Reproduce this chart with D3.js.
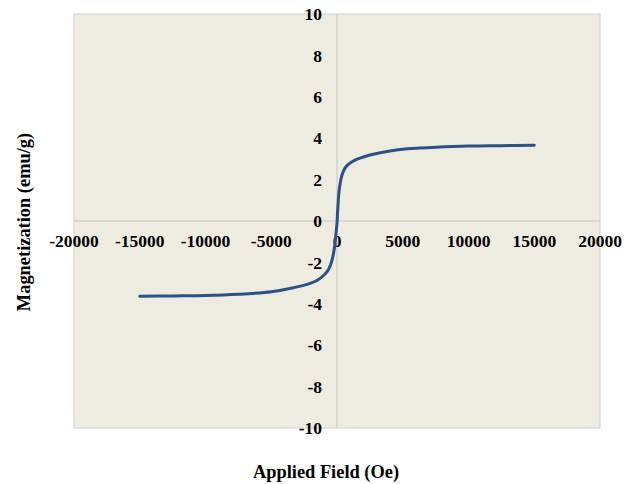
<!DOCTYPE html>
<html>
<head>
<meta charset="utf-8">
<script src="https://cdn.jsdelivr.net/npm/d3@7"></script>
<style>
  body { margin: 0; background: #fff; }
  text { font-family: "Liberation Serif", "Times New Roman", serif; font-weight: bold; fill: #000; }
</style>
</head>
<body>
<div id="chart"></div>
<script>
// applied field (Oe) and magnetization (emu/g)
const field = [-15000, -12500, -10000, -7500, -5000, -3500, -2000, -1500, -1000, -700, -500, -350, -200, -100, 0,
  50, 100, 150, 250, 350, 500, 700, 1000, 1300, 1750, 2500, 3300, 5000, 7500, 10000, 12500, 15000];
const magnetization = [-3.64, -3.62, -3.60, -3.54, -3.42, -3.25, -3.00, -2.86, -2.62, -2.40, -2.14, -1.82, -1.32, -0.75, -0.1,
  0.5, 1.0, 1.4, 1.85, 2.15, 2.42, 2.63, 2.80, 2.92, 3.04, 3.19, 3.30, 3.47, 3.56, 3.62, 3.64, 3.66];
const xTicks = [-20000, -15000, -10000, -5000, 0, 5000, 10000, 15000, 20000];
const yTicks = [-10, -8, -6, -4, -2, 0, 2, 4, 6, 8, 10];

const width = 624, height = 484;
const plot = { left: 74, right: 600, top: 14, bottom: 428 };

const svg = d3.select("#chart").append("svg")
    .attr("width", width)
    .attr("height", height);

const x = d3.scaleLinear().domain([-20000, 20000]).range([plot.left, plot.right]);
const y = d3.scaleLinear().domain([-10, 10]).range([plot.bottom, plot.top]);

svg.append("rect")
    .attr("x", plot.left)
    .attr("y", plot.top)
    .attr("width", plot.right - plot.left)
    .attr("height", plot.bottom - plot.top)
    .attr("fill", "#eeebe1")
    .attr("stroke", "#cfcfcf")
    .attr("stroke-width", 1);

// axes cross at zero
svg.append("line")
    .attr("x1", plot.left).attr("x2", plot.right)
    .attr("y1", y(0)).attr("y2", y(0))
    .attr("stroke", "#c6c6c6").attr("stroke-width", 1);

svg.append("line")
    .attr("x1", x(0)).attr("x2", x(0))
    .attr("y1", plot.top).attr("y2", plot.bottom)
    .attr("stroke", "#c6c6c6").attr("stroke-width", 1);

svg.selectAll(".xlab")
    .data(xTicks)
    .enter()
    .append("text")
    .attr("class", "xlab")
    .attr("x", d => x(d))
    .attr("y", y(0) + 26)
    .attr("text-anchor", "middle")
    .style("font-size", "17.5px")
    .text(d => d);

svg.selectAll(".ylab")
    .data(yTicks)
    .enter()
    .append("text")
    .attr("class", "ylab")
    .attr("x", x(0) - 15)
    .attr("y", d => y(d))
    .attr("dy", "0.35em")
    .attr("text-anchor", "end")
    .style("font-size", "17.5px")
    .text(d => d);

const line = d3.line()
    .x((d, i) => x(field[i]))
    .y(d => y(d))
    .curve(d3.curveCatmullRom.alpha(0.5));

svg.append("path")
    .datum(magnetization)
    .attr("d", line)
    .attr("fill", "none")
    .attr("stroke", "#2a5188")
    .attr("stroke-width", 3)
    .attr("stroke-linecap", "round")
    .attr("stroke-linejoin", "round");

svg.append("text")
    .attr("x", 326)
    .attr("y", 478)
    .attr("text-anchor", "middle")
    .style("font-size", "18.4px")
    .text("Applied Field (Oe)");

svg.append("text")
    .attr("transform", "translate(30,222) rotate(-90)")
    .attr("text-anchor", "middle")
    .style("font-size", "18.4px")
    .text("Magnetization (emu/g)");
</script>
</body>
</html>
